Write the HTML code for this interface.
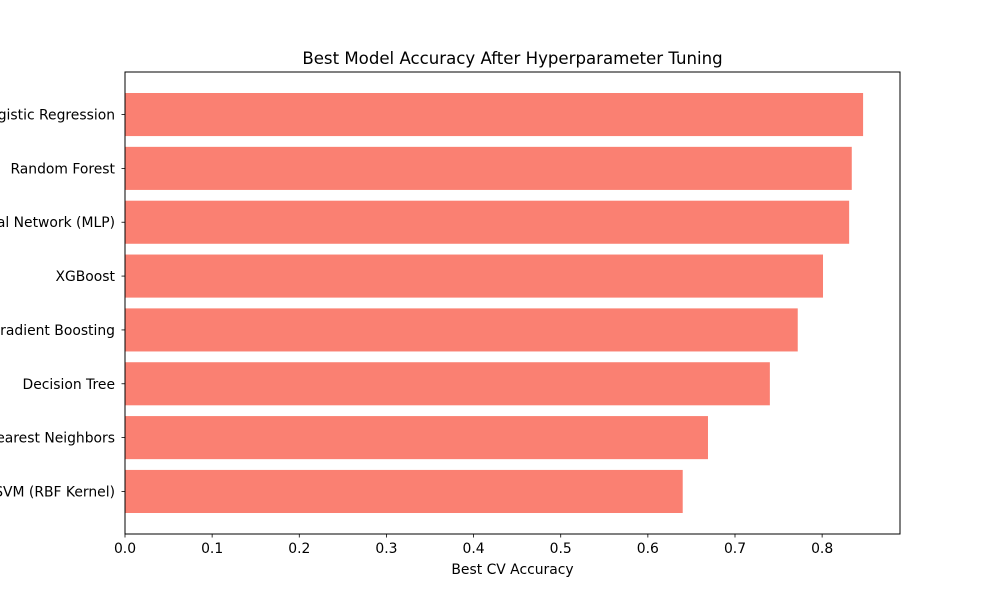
<!DOCTYPE html>
<html><head><meta charset="utf-8"><style>
body{margin:0;background:#fff;}
svg{display:block;font-family:"DejaVu Sans","Liberation Sans",sans-serif;}
</style></head><body>
<svg id="chart" width="1000" height="600" viewBox="0 0 1000 600"></svg>
<script>
const categories = ["Logistic Regression","Random Forest","Neural Network (MLP)","XGBoost","Gradient Boosting","Decision Tree","K-Nearest Neighbors","SVM (RBF Kernel)"];
const accuracies = [0.847,0.834,0.831,0.801,0.772,0.740,0.669,0.640];
const xTicks = [0,0.1,0.2,0.3,0.4,0.5,0.6,0.7,0.8];
const xTickLabels = ["0.0","0.1","0.2","0.3","0.4","0.5","0.6","0.7","0.8"];

const NS="http://www.w3.org/2000/svg";
const svg=document.getElementById('chart');
const L=125,R=900,T=72,B=534;
const xmax=Math.max(...accuracies)*1.05;
const n=categories.length;
const ymin=-0.4-0.039*10*(n/8), ymax=(n-1)+0.4+0.39*(n/8);
const x=v=>L+v/xmax*(R-L);
const y=v=>T+(ymax-v)/(ymax-ymin)*(B-T);
function mk(tag,attrs){const e=document.createElementNS(NS,tag);for(const k in attrs)e.setAttribute(k,attrs[k]);svg.appendChild(e);return e;}

categories.forEach((c,i)=>{
  const pos=n-1-i;
  const r=mk('rect',{x:x(0),y:y(pos+0.4),width:x(accuracies[i])-x(0),height:y(pos-0.4)-y(pos+0.4),fill:'#fa8072'});
  
  
  const tk=mk('line',{x1:L-3.5,x2:L,y1:y(pos),y2:y(pos),stroke:'#000','stroke-width':0.8});
  
  
  const t=mk('text',{x:L-10,y:y(pos)+5,'text-anchor':'end','font-size':13.9,fill:'#000'});
  t.textContent=c;
  
  
});
xTicks.forEach((v,i)=>{
  const tk=mk('line',{x1:x(v),x2:x(v),y1:B,y2:B+3.5,stroke:'#000','stroke-width':0.8});
  
  
  const t=mk('text',{x:x(v),y:B+19,'text-anchor':'middle','font-size':13.9,fill:'#000'});
  t.textContent=xTickLabels[i];
  
  
});
const frame=mk('rect',{x:L,y:T,width:R-L,height:B-T,fill:'none',stroke:'#000','stroke-width':1});


const xt=mk('text',{x:(L+R)/2,y:574,'text-anchor':'middle','font-size':13.9,fill:'#000'});
xt.textContent='Best CV Accuracy';


const tt=mk('text',{x:(L+R)/2,y:64,'text-anchor':'middle','font-size':16.6,fill:'#000'});
tt.textContent='Best Model Accuracy After Hyperparameter Tuning';


</script>
</body></html>
